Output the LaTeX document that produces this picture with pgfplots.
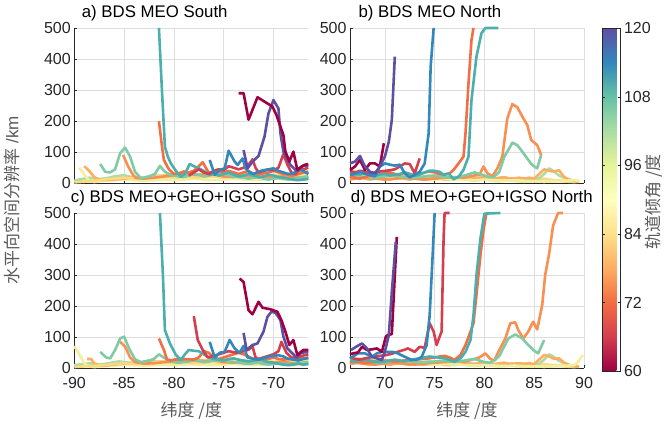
\documentclass[border=0pt]{standalone}
\usepackage{fontspec}
\setmainfont{Liberation Sans}
\newfontfamily\cjk{Noto Sans CJK SC}
\usepackage{pgfplots}
\pgfplotsset{compat=1.18}
\definecolor{c60}{RGB}{158,1,66}
\definecolor{c66}{RGB}{213,62,79}
\definecolor{c72}{RGB}{244,109,67}
\definecolor{c76}{RGB}{250,143,82}
\definecolor{c78}{RGB}{253,174,97}
\definecolor{c84}{RGB}{252,218,130}
\definecolor{c90}{RGB}{244,238,160}
\definecolor{c96}{RGB}{222,240,150}
\definecolor{c102}{RGB}{171,221,164}
\definecolor{c105}{RGB}{128,203,164}
\definecolor{c110}{RGB}{75,175,174}
\definecolor{c114}{RGB}{50,136,189}
\definecolor{c120}{RGB}{94,79,162}
\definecolor{tickc}{RGB}{38,38,38}
\definecolor{labc}{RGB}{90,90,90}
\definecolor{gridc}{RGB}{222,222,222}
\pgfplotsset{
  panel/.style={scale only axis, width=234pt, height=155.3pt, anchor=south west,
    ymin=0, ymax=500, ytick={0,100,...,500},
    grid=major, grid style={line width=0.5pt, draw=gridc},
    axis x line*=bottom, axis y line*=left, axis line style={-, draw=tickc, line width=0.6pt},
    tick align=inside, major tick length=3pt, tick style={draw=tickc, line width=0.5pt},
    clip=false, no markers,
    every axis plot/.append style={line width=2.6pt, line join=round},
    tick label style={font=\fontsize{16}{19}\selectfont, text=tickc},
    xticklabel style={yshift=-6pt},
    /pgf/number format/assume math mode=true,
    title style={at={(0,1)}, anchor=base west, yshift=4.7pt, font=\fontsize{16.8}{20}\selectfont, text=black, inner sep=0pt},
    xlabel style={font=\fontsize{17}{20}\selectfont\cjk, text=labc, yshift=-6pt},
  },
  south/.style={xmin=-90, xmax=-66.5, xtick={-90,-85,...,-70}},
  north/.style={xmin=66.5, xmax=90, xtick={70,75,...,90}},
  notick/.style={xticklabels={,,,,,,}},
  colormap={spectralr}{rgb255=(158,1,66) rgb255=(213,62,79) rgb255=(244,109,67) rgb255=(253,174,97) rgb255=(254,224,139) rgb255=(255,255,191) rgb255=(230,245,152) rgb255=(171,221,164) rgb255=(102,194,165) rgb255=(50,136,189) rgb255=(94,79,162)},
}
\begin{document}
\begin{tikzpicture}
\useasboundingbox (0,0) rectangle (665pt,422pt);
% ---------------- a) -----------------
\begin{axis}[panel, south, notick, at={(74.3pt,238.7pt)}, title={a) BDS MEO South}, title style={xshift=7.4pt}]
\addplot[c96] coordinates {(-90,6)(-89.5,10)(-89,14)(-88.5,12)(-88,10)(-87.5,12)(-87,14)(-86.5,12)(-86,15)(-85.5,18)(-85,20)(-84.5,16)(-84,14)(-83.5,12)(-83,15)(-82.5,18)(-82,16)(-81.5,14)(-81,18)(-80.5,20)(-80,16)(-79.5,15)(-79,18)(-78.5,20)(-78,22)(-77.5,18)(-77,16)(-76.5,20)(-76,24)(-75.5,22)(-75,18)(-74.5,20)(-74,24)(-73.5,20)(-73,18)(-72.5,20)(-72,25)(-71.5,22)(-71,20)(-70.5,24)(-70,28)(-69.5,25)(-69,20)(-68.5,22)(-68,25)(-67.5,28)(-67,30)(-66.5,30)};
\addplot[c102] coordinates {(-90,8)(-89.5,12)(-89,15)(-88.5,18)(-88,16)(-87.5,14)(-87,15)(-86.5,18)(-86,22)(-85.5,24)(-85,26)(-84.5,22)(-84,18)(-83.5,16)(-83,18)(-82.5,22)(-82,25)(-81.5,24)(-81,22)(-80.5,25)(-80,22)(-79.5,20)(-79,24)(-78.5,26)(-78,22)(-77.5,20)(-77,24)(-76.5,28)(-76,25)(-75.5,22)(-75,20)(-74.5,22)(-74,18)(-73.5,15)(-73,18)(-72.5,22)(-72,20)(-71.5,18)(-71,15)(-70.5,18)(-70,20)(-69.5,18)(-69,15)(-68.5,18)(-68,20)(-67.5,16)(-67,14)(-66.5,15)};
\addplot[c90] coordinates {(-89.5,50)(-89,28)(-88.5,8)(-88,4)(-87.5,6)(-87,8)(-86,10)(-85,12)(-84,10)(-83,8)(-82,10)(-81,12)(-80,10)(-79,12)(-78,15)(-77,12)(-76,10)(-75,12)(-74,15)(-73,12)(-72,10)(-71,12)(-70,15)(-69,12)(-68,10)(-67,12)(-66.5,14)};
\addplot[c78] coordinates {(-89,55)(-88.5,40)(-88,20)(-87.5,12)(-87,10)(-86,12)(-85,15)(-84,20)(-83,18)(-82,22)(-81,25)(-80,28)(-79,25)(-78,30)(-77,28)(-76,25)(-75,30)(-74,28)(-73,22)(-72,25)(-71,20)(-70,18)(-69,15)(-68,18)(-67,20)(-66.5,22)};
\addplot[c84] coordinates {(-90,3)(-89,5)(-88,8)(-87,12)(-86,15)(-85,18)(-84,15)(-83,18)(-82,20)(-81,25)(-80,20)(-79,22)(-78,18)(-77,20)(-76,22)(-75,18)(-74,25)(-73,30)(-72,25)(-71,20)(-70,22)(-69,28)(-68,25)(-67,30)(-66.5,35)};
\addplot[c76] coordinates {(-85.1,91)(-84.6,55)(-84.1,27)(-83.8,17)(-83,15)(-82,18)(-81,22)(-80,25)(-79,30)(-78,28)(-77,25)(-76,30)(-75,22)(-74,20)(-73,25)(-72,22)(-71,18)(-70,20)(-69,22)(-68,18)(-67,15)(-66.5,16)};
\addplot[c105] coordinates {(-87.4,62)(-86.9,37)(-86.4,35)(-85.9,45)(-85.4,97)(-84.9,115)(-84.4,86)(-83.9,37)(-83.3,16)(-82.5,22)(-81.9,30)(-81.4,56)(-80.9,37)(-80.5,30)(-80,25)(-79.5,22)(-79,20)(-78.5,25)(-78,30)(-77.5,28)(-77,22)(-76.5,25)(-76,30)(-75.5,28)(-75,32)(-74.5,25)(-74,22)(-73.5,20)(-73,18)(-72.5,15)(-72,18)(-71.5,20)(-71,15)(-70.5,12)(-70,15)(-69.5,18)(-69,15)(-68.5,12)(-68,14)(-67.5,18)(-67,20)(-66.5,22)};
\addplot[c72] coordinates {(-81.5,200)(-81.2,120)(-81,75)(-80.5,45)(-80,30)(-79.5,32)(-79,38)(-78.5,35)(-78,40)(-77.5,55)(-77.1,68)(-76.8,50)(-76.5,35)(-76,30)(-75.5,38)(-75,35)(-74.5,40)(-74,35)(-73.5,30)(-73,35)(-72.5,40)(-72,30)(-71.5,28)(-71,32)(-70.5,35)(-70,40)(-69.5,35)(-69,30)(-68.5,28)(-68,25)(-67.5,30)(-67,35)(-66.5,38)};
\addplot[c110] coordinates {(-81.5,500)(-81.2,300)(-80.9,118)(-80.6,85)(-80.3,64)(-79.8,40)(-79.3,21)(-78.9,30)(-78.4,62)(-78,55)(-77.6,50)(-77,40)(-76.4,27)(-76,30)(-75.5,25)(-75,30)(-74.5,35)(-74,28)(-73.5,22)(-73,25)(-72.5,30)(-72,25)(-71.5,20)(-71,22)(-70.5,28)(-70,25)(-69.5,20)(-69,18)(-68.5,15)(-68,12)(-67.5,10)(-67,12)(-66.5,14)};
\addplot[c66] coordinates {(-78.5,25)(-78,35)(-77.5,45)(-77,35)(-76.5,30)(-76,40)(-75.5,45)(-75,42)(-74.5,55)(-74,50)(-73.5,45)(-73,50)(-72.5,60)(-72.1,77)(-71.8,50)(-71.5,35)(-71,40)(-70.5,45)(-70,42)(-69.5,50)(-69,94)(-68.6,60)(-68.2,35)(-67.8,30)(-67.5,40)(-67,45)(-66.5,50)};
\addplot[c114] coordinates {(-76.4,75)(-75.9,27)(-75.4,43)(-74.9,48)(-74.5,105)(-73.9,70)(-73.6,59)(-73.1,80)(-72.8,48)(-72.4,35)(-72,30)(-71.5,38)(-71,42)(-70.5,45)(-70,48)(-69.5,40)(-69,35)(-68.5,30)(-68,32)(-67.5,45)(-67,40)(-66.5,30)};
\addplot[c120] coordinates {(-73,107)(-72.6,48)(-72.1,70)(-71.5,88)(-70.9,150)(-70.5,225)(-70,268)(-69.5,241)(-69.3,161)(-69,102)(-68.3,59)(-67.7,41)(-67.1,56)(-66.5,56)};
\addplot[c60] coordinates {(-73.5,290)(-73,290)(-72.5,205)(-71.6,277)(-70.1,247)(-69.7,220)(-69,155)(-68.8,102)(-68.4,70)(-68,102)(-67.6,43)(-66.9,59)(-66.5,62)};
\end{axis}
% ---------------- b) -----------------
\begin{axis}[panel, north, notick, at={(350pt,238.7pt)}, title={b) BDS MEO North}, title style={xshift=8.3pt},
  colorbar, colormap name=spectralr, point meta min=60, point meta max=120,
  colorbar style={at={(parent axis.north east)}, anchor=north west, xshift=9.6pt, yshift=-0.3pt,
    width=18.4pt, height=342.7pt, ytick={60,72,...,120}, yticklabel pos=right,
    tick align=inside, major tick length=3pt, tick style={draw=tickc, line width=0.5pt},
    axis line style={draw=tickc, line width=0.6pt},
    yticklabel style={font=\fontsize{16}{19}\selectfont, text=tickc},
    /pgf/number format/assume math mode=true}]
\addplot[c84] coordinates {(66.5,35)(67,38)(67.5,32)(68,30)(68.5,35)(69,28)(69.5,25)(70,22)(70.5,20)(71,18)(71.5,20)(72,22)(72.5,18)(73,15)(73.5,18)(74,20)(74.5,18)(75,15)(75.5,18)(76,20)(76.5,16)(77,14)(77.5,15)(78,18)(78.5,15)(79,12)(79.5,14)(80,15)(80.5,12)(81,10)(81.5,12)(82,15)(82.5,12)(83,10)(83.5,12)(84,14)(84.5,12)(85,10)(85.5,12)(86,15)(86.5,12)(87,10)(87.5,8)(88,6)(88.5,5)(89,4)(89.5,5)};
\addplot[c102] coordinates {(66.5,28)(67,25)(67.5,30)(68,28)(68.5,25)(69,22)(69.5,25)(70,28)(70.5,25)(71,22)(71.5,20)(72,24)(72.5,22)(73,20)(73.5,18)(74,22)(74.5,25)(75,20)(75.5,18)(76,22)(76.5,20)(77,16)(77.5,18)(78,20)(78.5,18)(79,15)(79.5,16)(80,18)(80.5,15)(81,14)(81.5,15)(82,18)(82.5,16)(83,14)(83.5,15)(84,16)(84.5,14)(85,12)(85.5,16)(86,30)(86.5,48)(87,38)(87.5,25)(88,18)(88.5,12)(89,8)(89.5,5)};
\addplot[c96] coordinates {(66.5,20)(67,22)(67.5,18)(68,20)(68.5,22)(69,18)(69.5,15)(70,18)(70.5,20)(71,16)(71.5,15)(72,14)(72.5,16)(73,18)(73.5,15)(74,12)(74.5,14)(75,16)(75.5,14)(76,12)(76.5,10)(77,12)(77.5,14)(78,12)(78.5,10)(79,8)(79.5,10)(80,12)(80.5,10)(81,8)(81.5,6)(82,8)(82.5,10)(83,8)(83.5,6)(84,5)(84.5,6)(85,8)(85.5,6)(86,5)(86.5,6)(87,8)(87.5,10)(88,12)(88.5,10)(89,8)(89.5,6)};
\addplot[c78] coordinates {(66.5,15)(67,18)(67.5,20)(68,15)(68.5,12)(69,15)(69.5,18)(70,15)(70.5,12)(71,15)(71.5,18)(72,15)(72.5,12)(73,15)(73.5,14)(74,12)(74.5,15)(75,18)(75.5,15)(76,12)(76.5,15)(77,18)(77.5,20)(78,16)(78.5,14)(79,15)(79.5,18)(80,20)(80.5,16)(81,14)(81.5,18)(82,20)(82.5,15)(83,16)(83.5,18)(84,15)(84.5,18)(85,15)(85.5,30)(86,45)(86.5,40)(87,38)(87.5,42)(88,20)(88.5,12)(89,8)(89.5,5)};
\addplot[c90] coordinates {(66.5,22)(67,20)(68,24)(69,20)(70,18)(71,22)(72,20)(73,18)(74,15)(75,12)(76,14)(77,16)(78,12)(79,10)(80,12)(81,10)(82,8)(83,10)(84,8)(85,6)(86,5)(87,6)(88,8)(89,10)(89.5,8)};
\addplot[c76] coordinates {(66.5,12)(67,15)(68,18)(69,15)(70,12)(71,15)(72,18)(73,15)(74,12)(75,15)(76,18)(77,20)(78,18)(78.5,22)(79,25)(79.5,27)(79.9,54)(80.3,32)(80.8,23)(81.3,48)(81.8,86)(82.3,209)(82.8,255)(83.3,245)(83.8,215)(84.3,188)(84.7,139)(85.3,123)(85.7,91)};
\addplot[c105] coordinates {(66.5,25)(67,22)(68,20)(69,18)(70,22)(71,25)(72,20)(73,18)(74,22)(75,25)(76,20)(77,18)(78,25)(78.5,30)(79,35)(79.5,30)(80,25)(80.5,20)(81,22)(81.5,37)(82,86)(82.5,113)(82.8,131)(83.3,123)(83.8,102)(84.3,80)(84.8,59)(85.3,48)(85.7,91)};
\addplot[c72] coordinates {(66.5,22)(67,18)(67.5,15)(68,20)(68.5,25)(69,28)(69.5,30)(70,32)(70.5,35)(71,30)(71.5,28)(72,35)(72.5,30)(73,25)(73.5,30)(74,35)(74.5,38)(75,35)(75.5,30)(76,28)(76.5,32)(76.9,43)(77.4,64)(77.9,86)(78.1,161)(78.4,322)(78.7,461)(78.9,500)};
\addplot[c110] coordinates {(66.5,35)(67,30)(67.5,28)(68,32)(68.5,30)(69,25)(69.5,28)(70,30)(70.5,25)(71,28)(71.5,30)(72,35)(72.5,30)(73,25)(73.5,28)(74,35)(74.5,41)(75,40)(75.5,37)(75.9,27)(76.4,32)(76.9,13)(77.4,21)(77.9,43)(78.4,86)(78.7,268)(79.2,408)(79.7,483)(80.1,500)(81.4,500)};
\addplot[c66] coordinates {(66.5,40)(67,35)(67.5,40)(68,38)(68.5,30)(69,35)(69.5,38)(70,40)(70.5,42)(71,45)(71.5,54)(72,64)(72.5,62)(73,32)(73.5,80)};
\addplot[c114] coordinates {(66.5,27)(67,30)(67.5,37)(68,30)(68.5,27)(69,22)(69.5,54)(70,64)(70.5,60)(71,57)(71.5,60)(72,32)(72.5,19)(73,27)(73.5,37)(74,64)(74.4,161)(74.6,375)(74.9,500)};
\addplot[c60] coordinates {(66.5,43)(67,54)(67.5,75)(68,43)(68.5,64)(69,64)(69.5,54)(69.9,129)};
\addplot[c120] coordinates {(66.5,64)(67,70)(67.5,88)(68,54)(68.5,37)(69,32)(69.5,54)(70,86)(70.4,134)(70.7,204)(71,408)};
\end{axis}
% ---------------- c) -----------------
\begin{axis}[panel, south, at={(74.3pt,53.7pt)}, title={c) BDS MEO+GEO+IGSO South}, title style={xshift=-3.6pt}, xlabel={纬度 /度}]
\addplot[c96] coordinates {(-90,8)(-89.5,10)(-89,12)(-88.5,14)(-88,12)(-87.5,10)(-87,12)(-86.5,15)(-86,18)(-85.5,16)(-85,18)(-84.5,15)(-84,12)(-83.5,14)(-83,16)(-82.5,18)(-82,20)(-81.5,16)(-81,18)(-80.5,15)(-80,18)(-79.5,20)(-79,18)(-78.5,16)(-78,20)(-77.5,22)(-77,18)(-76.5,20)(-76,22)(-75.5,20)(-75,18)(-74.5,22)(-74,20)(-73.5,18)(-73,20)(-72.5,22)(-72,18)(-71.5,20)(-71,22)(-70.5,25)(-70,22)(-69.5,20)(-69,22)(-68.5,25)(-68,22)(-67.5,25)(-67,28)(-66.5,28)};
\addplot[c102] coordinates {(-90,10)(-89.5,12)(-89,14)(-88.5,16)(-88,15)(-87.5,12)(-87,14)(-86.5,16)(-86,20)(-85.5,22)(-85,20)(-84.5,18)(-84,16)(-83.5,18)(-83,20)(-82.5,24)(-82,22)(-81.5,20)(-81,18)(-80.5,22)(-80,20)(-79.5,18)(-79,22)(-78.5,24)(-78,20)(-77.5,18)(-77,22)(-76.5,25)(-76,22)(-75.5,20)(-75,18)(-74.5,20)(-74,16)(-73.5,14)(-73,16)(-72.5,20)(-72,18)(-71.5,16)(-71,14)(-70.5,16)(-70,18)(-69.5,16)(-69,14)(-68.5,16)(-68,18)(-67.5,15)(-67,13)(-66.5,14)};
\addplot[c90] coordinates {(-90,72)(-89.5,45)(-89,16)(-88.5,6)(-88,4)(-87.5,5)(-87,7)(-86,9)(-85,11)(-84,10)(-83,8)(-82,10)(-81,11)(-80,10)(-79,12)(-78,13)(-77,11)(-76,10)(-75,12)(-74,14)(-73,12)(-72,10)(-71,12)(-70,14)(-69,12)(-68,10)(-67,12)(-66.5,13)};
\addplot[c78] coordinates {(-88.7,30)(-88.3,30)(-88,15)(-87.5,10)(-87,8)(-86,12)(-85,15)(-84,18)(-83,16)(-82,20)(-81,22)(-80,25)(-79,22)(-78,28)(-77,25)(-76,22)(-75,28)(-74,25)(-73,20)(-72,22)(-71,18)(-70,16)(-69,14)(-68,16)(-67,18)(-66.5,20)};
\addplot[c84] coordinates {(-90,4)(-89,6)(-88,8)(-87,10)(-86,14)(-85,16)(-84,14)(-83,16)(-82,18)(-81,22)(-80,18)(-79,20)(-78,16)(-77,18)(-76,20)(-75,16)(-74,22)(-73,26)(-72,22)(-71,18)(-70,20)(-69,25)(-68,22)(-67,26)(-66.5,30)};
\addplot[c76] coordinates {(-85.4,85)(-84.9,70)(-84.4,35)(-83.9,20)(-83,15)(-82,16)(-81,20)(-80,22)(-79,26)(-78,25)(-77,22)(-76,26)(-75,20)(-74,18)(-73,22)(-72,20)(-71,16)(-70,18)(-69,20)(-68,16)(-67,14)(-66.5,15)};
\addplot[c105] coordinates {(-87.4,53)(-86.8,35)(-86.4,32)(-85.9,59)(-85.4,96)(-85,102)(-84.5,64)(-83.9,29)(-83.3,20)(-82.5,25)(-82,30)(-81.5,45)(-80.9,32)(-80.5,25)(-80,20)(-79.5,18)(-79,20)(-78.5,22)(-78,25)(-77.5,24)(-77,20)(-76.5,22)(-76,25)(-75.5,24)(-75,26)(-74.5,22)(-74,20)(-73.5,18)(-73,16)(-72.5,14)(-72,16)(-71.5,18)(-71,14)(-70.5,12)(-70,14)(-69.5,16)(-69,14)(-68.5,12)(-68,13)(-67.5,16)(-67,18)(-66.5,20)};
\addplot[c72] coordinates {(-81.5,96)(-81,59)(-80.7,29)(-80.3,25)(-80,28)(-79,30)(-78,28)(-77.5,35)(-77,55)(-76.5,50)(-76,35)(-75.5,30)(-75,35)(-74.5,40)(-74,45)(-73.5,50)(-73,45)(-72.5,38)(-72,30)(-71.5,28)(-71,32)(-70.5,30)(-70,35)(-69.5,30)(-69,28)(-68.5,30)(-68,35)(-67.5,30)(-67,32)(-66.5,35)};
\addplot[c110] coordinates {(-81.4,500)(-81.1,300)(-80.9,123)(-80.4,80)(-79.8,43)(-79.3,27)(-78.9,45)(-78.5,59)(-77.9,56)(-77.5,55)(-77,45)(-76.5,35)(-76,30)(-75.5,28)(-75,25)(-74.5,30)(-74,32)(-73.5,28)(-73,25)(-72.5,22)(-72,25)(-71.5,28)(-71,25)(-70.5,20)(-70,18)(-69.5,15)(-69,12)(-68.5,10)(-68,12)(-67.5,15)(-67,12)(-66.5,14)};
\addplot[c66] coordinates {(-78,168)(-77.6,91)(-77.1,59)(-76.6,35)(-76,40)(-75.5,45)(-75,50)(-74.5,55)(-74,52)(-73.5,50)(-73,55)(-72.5,60)(-72.1,70)(-71.8,35)(-71.5,30)(-71,35)(-70.5,40)(-70,45)(-69.5,55)(-69.2,85)(-68.7,50)(-68.2,35)(-67.8,30)(-67.3,38)(-66.9,42)(-66.5,45)};
\addplot[c114] coordinates {(-76.4,85)(-75.9,35)(-75.4,50)(-74.9,53)(-74.4,91)(-73.9,64)(-73.4,50)(-73,72)(-72.6,35)(-72,30)(-71.5,28)(-71,32)(-70.5,38)(-70,40)(-69.5,42)(-69,38)(-68.5,30)(-68,28)(-67.5,25)(-67,30)(-66.5,33)};
\addplot[c120] coordinates {(-73,114)(-72.7,59)(-72.1,75)(-71.6,80)(-71,118)(-70.6,166)(-70.2,182)(-69.8,179)(-69.3,155)(-69,102)(-68.6,64)(-68.1,48)(-67.7,35)(-67.2,50)(-66.5,53)};
\addplot[c60] coordinates {(-73.4,289)(-73,278)(-72.5,187)(-72.1,174)(-71.5,214)(-71.1,195)(-70.3,190)(-69.6,182)(-69.2,155)(-68.8,118)(-68.4,75)(-68,91)(-67.6,43)(-67,59)(-66.5,59)};
\end{axis}
% ---------------- d) -----------------
\begin{axis}[panel, north, at={(350pt,53.7pt)}, title={d) BDS MEO+GEO+IGSO North}, title style={xshift=0.7pt}, xlabel={纬度 /度}]
\addplot[c84] coordinates {(66.5,30)(67,34)(67.5,30)(68,28)(68.5,32)(69,26)(69.5,24)(70,20)(70.5,18)(71,16)(71.5,18)(72,20)(72.5,16)(73,14)(73.5,16)(74,18)(74.5,16)(75,14)(75.5,16)(76,18)(76.5,15)(77,13)(77.5,14)(78,16)(78.5,14)(79,11)(79.5,13)(80,14)(80.5,11)(81,10)(81.5,11)(82,14)(82.5,11)(83,10)(83.5,11)(84,13)(84.5,11)(85,10)(85.5,11)(86,14)(86.5,11)(87,10)(87.5,8)(88,6)(88.5,5)(89,4)(89.5,5)};
\addplot[c102] coordinates {(66.5,26)(67,24)(67.5,28)(68,26)(68.5,24)(69,20)(69.5,24)(70,26)(70.5,24)(71,20)(71.5,18)(72,22)(72.5,20)(73,18)(73.5,16)(74,20)(74.5,24)(75,18)(75.5,16)(76,20)(76.5,18)(77,15)(77.5,16)(78,18)(78.5,16)(79,14)(79.5,15)(80,16)(80.5,14)(81,13)(81.5,14)(82,16)(82.5,15)(83,13)(83.5,14)(84,15)(84.5,13)(85,11)(85.5,15)(86,28)(86.5,45)(87,36)(87.5,24)(88,16)(88.5,11)(89,7)(89.5,5)};
\addplot[c96] coordinates {(66.5,18)(67,20)(67.5,16)(68,18)(68.5,20)(69,16)(69.5,14)(70,16)(70.5,18)(71,15)(71.5,14)(72,13)(72.5,15)(73,16)(73.5,14)(74,11)(74.5,13)(75,15)(75.5,13)(76,11)(76.5,9)(77,11)(77.5,13)(78,11)(78.5,9)(79,7)(79.5,9)(80,11)(80.5,9)(81,7)(81.5,6)(82,7)(82.5,9)(83,7)(83.5,6)(84,5)(84.5,6)(85,7)(85.5,6)(86,5)(86.5,6)(87,7)(87.5,9)(88,11)(88.5,9)(89,7)(89.5,5)};
\addplot[c78] coordinates {(66.5,14)(67,16)(67.5,18)(68,14)(68.5,11)(69,14)(69.5,16)(70,14)(70.5,11)(71,14)(71.5,16)(72,14)(72.5,11)(73,14)(73.5,13)(74,11)(74.5,14)(75,16)(75.5,14)(76,11)(76.5,14)(77,16)(77.5,18)(78,15)(78.5,13)(79,14)(79.5,16)(80,18)(80.5,15)(81,13)(81.5,16)(82,18)(82.5,14)(83,15)(83.5,16)(84,14)(84.5,16)(85,14)(85.5,28)(86,43)(86.5,38)(87,30)(87.5,32)(88,18)(88.5,11)(89,7)(89.5,5)};
\addplot[c90] coordinates {(66.5,20)(67,18)(68,22)(69,18)(70,16)(71,20)(72,18)(73,16)(74,14)(75,11)(76,13)(77,15)(78,11)(79,9)(80,11)(81,9)(82,7)(83,9)(84,7)(85,6)(86,5)(87,6)(88,8)(89,10)(89.4,20)(89.9,43)};
\addplot[c76] coordinates {(66.5,15)(67,18)(68,15)(69,12)(70,15)(71,18)(72,15)(73,12)(74,15)(75,18)(76,20)(77,22)(78,20)(78.5,25)(79,30)(79.5,35)(80.1,48)(80.6,30)(81,25)(81.4,53)(82.1,96)(82.6,145)(83.1,148)(83.4,123)(83.9,96)(84.4,118)(84.9,150)(85.3,125)(85.8,203)(86.1,300)(86.5,369)(86.9,460)(87.4,500)(87.9,500)};
\addplot[c105] coordinates {(66.5,22)(67,20)(68,22)(69,18)(70,20)(71,22)(72,25)(73,20)(74,18)(75,22)(76,25)(77,20)(78,25)(78.5,28)(79,30)(79.5,25)(80,20)(80.5,18)(81,25)(81.5,40)(82.4,96)(83.1,109)(83.8,96)(84.4,75)(84.9,59)(85.4,48)(86,91)};
\addplot[c72] coordinates {(66.5,20)(67,22)(68,18)(69,20)(70,25)(71,22)(72,25)(73,28)(74,30)(75,35)(75.5,38)(76,40)(76.5,35)(77,27)(77.6,43)(78.1,75)(78.6,118)(78.9,145)(79.2,236)(79.6,364)(79.9,444)(80.2,500)};
\addplot[c110] coordinates {(66.5,25)(67,22)(67.5,25)(68,28)(68.5,25)(69,22)(69.5,20)(70,22)(70.5,25)(71,28)(71.5,25)(72,22)(72.5,25)(73,30)(73.5,32)(74,35)(74.5,38)(75,36)(75.5,34)(76,32)(76.5,27)(77,21)(77.6,32)(78.1,53)(78.6,91)(78.9,171)(79.2,300)(79.6,418)(80,498)(81.6,500)};
\addplot[c66] coordinates {(66.5,35)(67,30)(67.5,28)(68,32)(68.5,35)(69,38)(69.5,40)(70,42)(70.5,45)(71,50)(71.5,55)(72,60)(72.3,64)(73,53)(73.5,69)(74,66)(74.5,145)(74.9,118)(75.2,75)(75.5,102)(75.7,118)(75.9,418)(76,500)(76.5,500)};
\addplot[c114] coordinates {(66.5,32)(67.3,48)(68,48)(68.7,37)(69.2,48)(69.7,53)(70.2,53)(70.8,53)(71.3,48)(72,37)(72.7,27)(73.2,27)(73.7,37)(74.2,75)(74.5,171)(74.8,364)(75,500)};
\addplot[c60] coordinates {(66.5,45)(66.8,48)(67.3,51)(67.7,69)(68.2,59)(68.7,61)(69.2,64)(69.7,53)(70.1,102)(70.3,107)(70.7,110)(71.2,423)};
\addplot[c120] coordinates {(66.6,59)(67.1,69)(67.7,80)(68.2,64)(68.7,37)(69.2,32)(69.7,27)(70,53)(70.4,107)(70.7,246)(71.1,407)};
\end{axis}
\node[rotate=90, font=\fontsize{17}{20}\selectfont, text=labc] at (12pt,222pt) {{\cjk 水平向空间分辨率} /km};
\node[rotate=90, font=\fontsize{17}{20}\selectfont\cjk, text=labc] at (654pt,220pt) {轨道倾角 /度};
\end{tikzpicture}
\end{document}
